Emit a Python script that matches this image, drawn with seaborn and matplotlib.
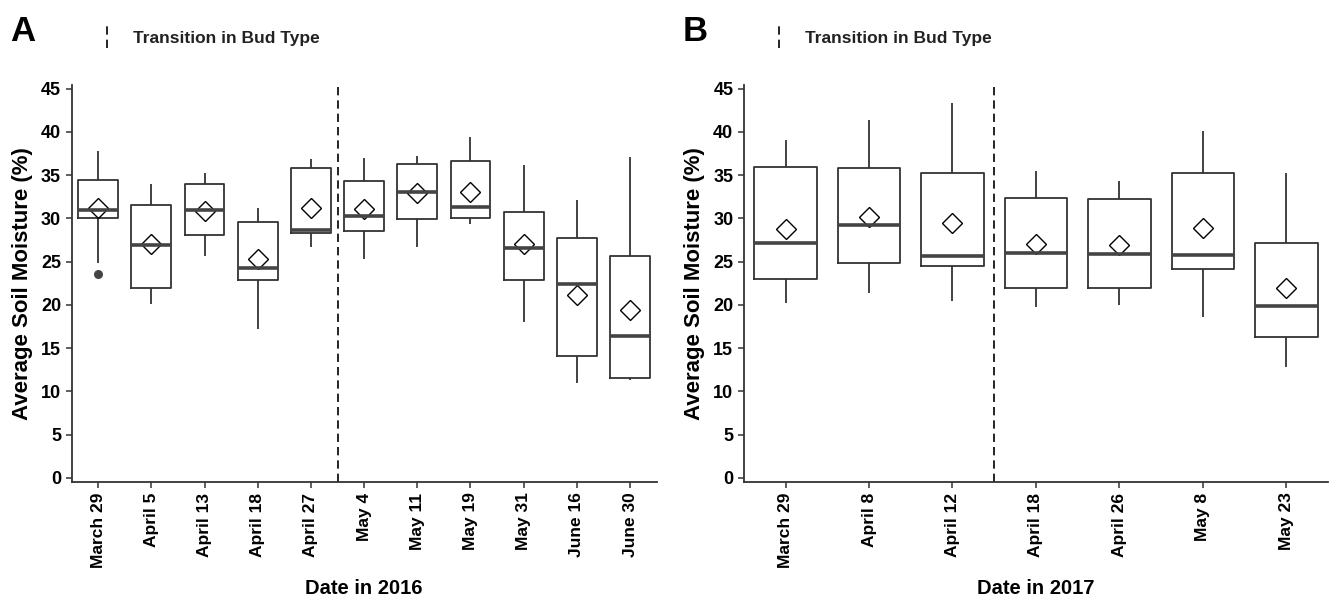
import pandas as pd
import seaborn as sns
import matplotlib.pyplot as plt
from matplotlib.lines import Line2D

# 2016 season
dates_2016 = ["March 29", "April 5", "April 13", "April 18", "April 27", "May 4",
              "May 11", "May 19", "May 31", "June 16", "June 30"]
low_2016 = [24.8, 20.1, 25.7, 17.2, 26.7, 25.3, 26.7, 29.3, 18.0, 11.0, 11.3]
q1_2016 = [30.1, 21.9, 28.1, 22.9, 28.3, 28.5, 29.9, 30.1, 22.9, 14.1, 11.6]
med_2016 = [31.0, 26.9, 31.0, 24.3, 28.7, 30.3, 33.1, 31.3, 26.6, 22.4, 16.4]
q3_2016 = [34.4, 31.6, 34.0, 29.6, 35.8, 34.3, 36.3, 36.6, 30.7, 27.7, 25.7]
high_2016 = [37.8, 34.0, 35.3, 31.2, 36.9, 37.0, 37.2, 39.4, 36.2, 32.1, 37.1]
mean_2016 = [31.2, 27.0, 30.9, 25.3, 31.2, 31.1, 32.9, 33.1, 27.0, 21.1, 19.4]
outlier_dates_2016 = ["March 29"]
outlier_vals_2016 = [23.6]
transition_2016 = 4.5

# 2017 season
dates_2017 = ["March 29", "April 8", "April 12", "April 18", "April 26", "May 8", "May 23"]
low_2017 = [20.2, 21.4, 20.4, 19.8, 20.0, 18.6, 12.8]
q1_2017 = [23.0, 24.9, 24.5, 22.0, 22.0, 24.1, 16.3]
med_2017 = [27.1, 29.2, 25.7, 26.0, 25.9, 25.8, 19.9]
q3_2017 = [36.0, 35.8, 35.2, 32.4, 32.2, 35.2, 27.1]
high_2017 = [39.1, 41.4, 43.3, 35.5, 34.3, 40.1, 35.2]
mean_2017 = [28.8, 30.2, 29.5, 27.0, 26.9, 28.9, 21.9]
transition_2017 = 2.5

sns.set_theme(style="ticks")
plt.rcParams["font.family"] = ["Liberation Sans", "DejaVu Sans"]
plt.rcParams["font.weight"] = "bold"
plt.rcParams["text.color"] = "black"
plt.rcParams["axes.labelcolor"] = "black"
plt.rcParams["xtick.labelcolor"] = "black"
plt.rcParams["ytick.labelcolor"] = "black"

DARK = "#333333"


def long_frame(dates, *stats):
    rows = []
    for i, d in enumerate(dates):
        for s in stats:
            rows.append({"date": d, "value": s[i]})
    return pd.DataFrame(rows)


def panel(ax, dates, low, q1, med, q3, high, means, trans, xlabel,
          out_dates=None, out_vals=None):
    df = long_frame(dates, low, q1, med, q3, high)
    sns.boxplot(data=df, x="date", y="value", order=dates, ax=ax,
                whis=(0, 100), width=0.75, fill=False, color=DARK,
                linewidth=1.3, showcaps=False,
                medianprops=dict(linewidth=2.6, color="#444444"))
    if out_dates:
        odf = pd.DataFrame({"date": out_dates, "value": out_vals})
        sns.stripplot(data=odf, x="date", y="value", order=dates, ax=ax,
                      jitter=False, color="#444444", size=6.5, linewidth=0)
    mdf = pd.DataFrame({"date": dates, "mean": means})
    sns.pointplot(data=mdf, x="date", y="mean", order=dates, ax=ax,
                  errorbar=None, linestyle="none", marker="D", markersize=10,
                  markerfacecolor="none", markeredgecolor="black",
                  markeredgewidth=1.0, color="black")
    ax.axvline(trans, color="black", lw=1.2, ls=(0, (5, 3)))
    ax.set_ylim(-0.5, 45.4)
    ax.set_xlim(-0.5, len(dates) - 0.5)
    ax.set_yticks(range(0, 46, 5))
    ax.set_xlabel(xlabel, fontsize=14.5, fontweight="bold", labelpad=8)
    ax.set_ylabel("Average Soil Moisture (%)", fontsize=16, fontweight="bold", labelpad=6)
    ax.tick_params(axis="x", rotation=90, labelsize=12.5, length=4, color=DARK, width=1.1)
    ax.tick_params(axis="y", labelsize=13, length=4, color=DARK, width=1.1)
    for lab in ax.get_xticklabels() + ax.get_yticklabels():
        lab.set_fontweight("bold")
    sns.despine(ax=ax)
    for sp in ["left", "bottom"]:
        ax.spines[sp].set_color(DARK)
        ax.spines[sp].set_linewidth(1.3)


fig = plt.figure(figsize=(13.32, 5.96), dpi=100)
axA = fig.add_axes([0.0537, 0.191, 0.4393, 0.666])
axB = fig.add_axes([0.5584, 0.191, 0.4387, 0.666])

panel(axA, dates_2016, low_2016, q1_2016, med_2016, q3_2016, high_2016, mean_2016,
      transition_2016, "Date in 2016", outlier_dates_2016, outlier_vals_2016)
panel(axB, dates_2017, low_2017, q1_2017, med_2017, q3_2017, high_2017, mean_2017,
      transition_2017, "Date in 2017")

# panel letters and the small legend above each panel
for letter, lx, dx in [("A", 0.0075, 0.0803), ("B", 0.5128, 0.5848)]:
    fig.text(lx, 0.947, letter, fontsize=25, fontweight="bold", va="center", ha="left")
    fig.add_artist(Line2D([dx, dx], [0.919, 0.958], transform=fig.transFigure,
                          color="black", lw=1.2, ls=(0, (5, 3))))
    fig.text(dx + 0.0195, 0.936, "Transition in Bud Type", fontsize=12.5,
             fontweight="bold", va="center", ha="left", color="#222222")

fig.savefig("out.png", dpi=100)
